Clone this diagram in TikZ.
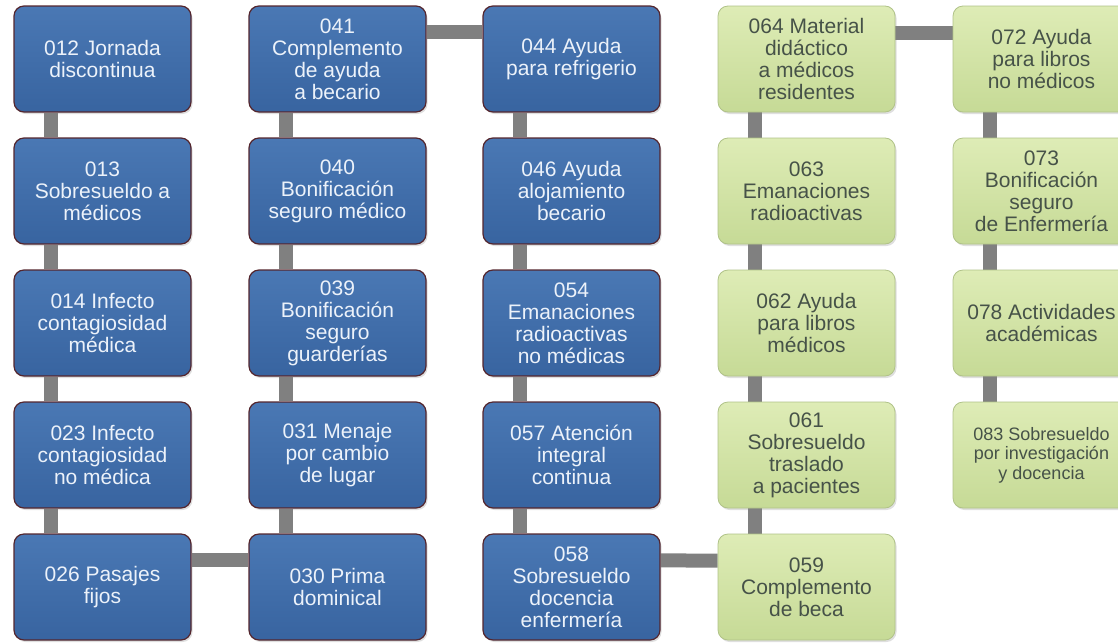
\documentclass[tikz,border=0pt]{standalone}
\usepackage{fontspec}
\setmainfont{Liberation Sans}
\usepackage{tikz}
\usetikzlibrary{shadows,backgrounds}
\definecolor{bluetop}{RGB}{74,120,180}
\definecolor{bluebot}{RGB}{56,100,160}
\definecolor{blueedge}{RGB}{84,38,46}
\definecolor{bluetext}{RGB}{236,242,250}
\definecolor{greentop}{RGB}{222,236,182}
\definecolor{greenbot}{RGB}{198,218,150}
\definecolor{greenedge}{RGB}{176,194,136}
\definecolor{greentext}{RGB}{70,82,72}
\definecolor{linkgray}{RGB}{128,128,128}
\tikzset{
  box/.style={rounded corners=10pt,minimum width=177pt,minimum height=106pt,
    align=center,inner sep=2pt,font=\fontsize{21}{22}\selectfont,
    drop shadow={shadow xshift=1.5pt,shadow yshift=-2pt,opacity=0.25}},
  bluebox/.style={box,draw=blueedge,line width=1.2pt,top color=bluetop,bottom color=bluebot,text=bluetext},
  greenbox/.style={box,draw=greenedge,line width=0.8pt,top color=greentop,bottom color=greenbot,text=greentext},
  link/.style={draw=linkgray,line width=14pt}
}

\begin{document}
\begin{tikzpicture}[x=1pt,y=-1pt]
  \useasboundingbox (0,0) rectangle (1118,643);
  \clip (0,0) rectangle (1118,643);
  % first column
  \node[bluebox] (n012) at (102.5,59) {012 Jornada\\discontinua};
  \node[bluebox] (n013) at (102.5,191) {013\\Sobresueldo a\\médicos};
  \node[bluebox] (n014) at (102.5,323) {014 Infecto\\contagiosidad\\médica};
  \node[bluebox] (n023) at (102.5,455) {023 Infecto\\contagiosidad\\no médica};
  \node[bluebox] (n026) at (102.5,587) {026 Pasajes\\fijos};
  % second column
  \node[bluebox] (n041) at (337.5,59) {041\\Complemento\\de ayuda\\a becario};
  \node[bluebox] (n040) at (337.5,191) {040\\Bonificación\\seguro médico};
  \node[bluebox] (n039) at (337.5,323) {039\\Bonificación\\seguro\\guarderías};
  \node[bluebox] (n031) at (337.5,455) {031 Menaje\\por cambio\\de lugar};
  \node[bluebox] (n030) at (337.5,587) {030 Prima\\dominical};
  % third column
  \node[bluebox] (n044) at (571.5,59) {044 Ayuda\\para refrigerio};
  \node[bluebox] (n046) at (571.5,191) {046 Ayuda\\alojamiento\\becario};
  \node[bluebox] (n054) at (571.5,323) {054\\Emanaciones\\radioactivas\\no médicas};
  \node[bluebox] (n057) at (571.5,455) {057 Atención\\integral\\continua};
  \node[bluebox] (n058) at (571.5,587) {058\\Sobresueldo\\docencia\\enfermería};
  % fourth column
  \node[greenbox] (n064) at (806.5,59) {064 Material\\didáctico\\a médicos\\residentes};
  \node[greenbox] (n063) at (806.5,191) {063\\Emanaciones\\radioactivas};
  \node[greenbox] (n062) at (806.5,323) {062 Ayuda\\para libros\\médicos};
  \node[greenbox] (n061) at (806.5,455) {061\\Sobresueldo\\traslado\\a pacientes};
  \node[greenbox] (n059) at (806.5,587) {059\\Complemento\\de beca};
  % fifth column
  \node[greenbox] (n072) at (1041.5,59) {072 Ayuda\\para libros\\no médicos};
  \node[greenbox] (n073) at (1041.5,191) {073\\Bonificación\\seguro\\de Enfermería};
  \node[greenbox] (n078) at (1041.5,323) {078 Actividades\\académicas};
  \node[greenbox,font=\fontsize{18}{19.5}\selectfont] (n083) at (1041.5,455) {083 Sobresueldo\\por investigación\\y docencia};
  % connectors
  \begin{scope}[on background layer]
    \foreach \a/\b in {n012/n013,n013/n014,n014/n023,n023/n026,
                       n041/n040,n040/n039,n039/n031,n031/n030,
                       n044/n046,n046/n054,n054/n057,n057/n058,
                       n064/n063,n063/n062,n062/n061,n061/n059,
                       n072/n073,n073/n078,n078/n083}
      \draw[link] ([xshift=-52pt]\a.south) -- ([xshift=-52pt]\b.north);
    \foreach \a/\b in {n026/n030,n041/n044,n058/n059,n064/n072}
      \draw[link] ([yshift=-27pt]\a.north east) -- ([yshift=-27pt]\b.north west);
  \end{scope}
\end{tikzpicture}
\end{document}
